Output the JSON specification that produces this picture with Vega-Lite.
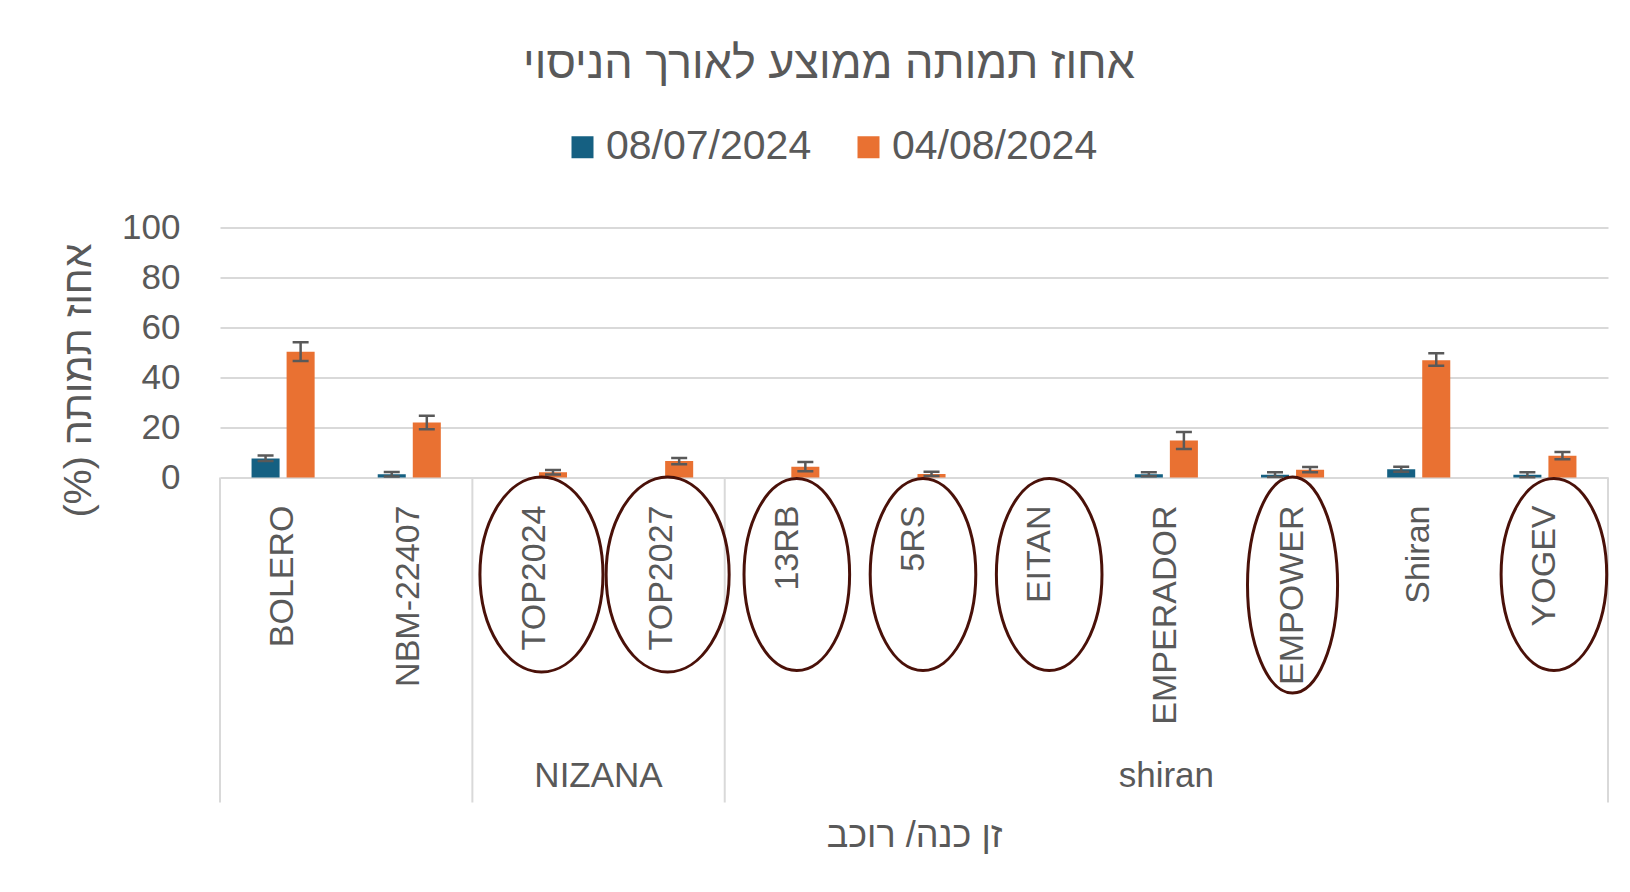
{
  "$schema": "https://vega.github.io/schema/vega-lite/v6.json",
  "width": 1388,
  "height": 575,
  "autosize": {"type": "none"},
  "padding": {"left": 220, "top": 227.5, "right": 22, "bottom": 89.5},
  "background": "white",
  "config": {
    "view": {"stroke": null},
    "font": "Liberation Sans, Arial, sans-serif"
  },
  "title": {
    "text": "אחוז תמותה ממוצע לאורך הניסוי",
    "fontSize": 45,
    "fontWeight": "normal",
    "color": "#595959",
    "anchor": "middle",
    "dx": -85,
    "offset": 40
  },
  "datasets": {
    "bars": [
      {"variety": "BOLERO", "date": "08/07/2024", "value": 7.6, "lo": 6.6, "hi": 8.8},
      {"variety": "BOLERO", "date": "04/08/2024", "value": 50.3, "lo": 46.6, "hi": 54.1},
      {"variety": "NBM-22407", "date": "08/07/2024", "value": 1.3, "lo": 0.4, "hi": 2.2},
      {"variety": "NBM-22407", "date": "04/08/2024", "value": 22, "lo": 19.3, "hi": 24.7},
      {"variety": "TOP2024", "date": "08/07/2024", "value": 0, "lo": null, "hi": null},
      {"variety": "TOP2024", "date": "04/08/2024", "value": 2.1, "lo": 1.2, "hi": 3.0},
      {"variety": "TOP2027", "date": "08/07/2024", "value": 0, "lo": null, "hi": null},
      {"variety": "TOP2027", "date": "04/08/2024", "value": 6.6, "lo": 5.3, "hi": 7.8},
      {"variety": "13RB", "date": "08/07/2024", "value": 0, "lo": null, "hi": null},
      {"variety": "13RB", "date": "04/08/2024", "value": 4.3, "lo": 2.5, "hi": 6.2},
      {"variety": "5RS", "date": "08/07/2024", "value": 0, "lo": null, "hi": null},
      {"variety": "5RS", "date": "04/08/2024", "value": 1.4, "lo": 0.6, "hi": 2.3},
      {"variety": "EITAN", "date": "08/07/2024", "value": 0, "lo": null, "hi": null},
      {"variety": "EITAN", "date": "04/08/2024", "value": 0, "lo": null, "hi": null},
      {"variety": "EMPERADOR", "date": "08/07/2024", "value": 1.3, "lo": 0.5, "hi": 2.1},
      {"variety": "EMPERADOR", "date": "04/08/2024", "value": 14.8, "lo": 11.4, "hi": 18.2},
      {"variety": "EMPOWER", "date": "08/07/2024", "value": 1.1, "lo": 0.2, "hi": 2.1},
      {"variety": "EMPOWER", "date": "04/08/2024", "value": 3.1, "lo": 2.1, "hi": 4.2},
      {"variety": "Shiran", "date": "08/07/2024", "value": 3.3, "lo": 2.3, "hi": 4.3},
      {"variety": "Shiran", "date": "04/08/2024", "value": 46.9, "lo": 44.7, "hi": 49.7},
      {"variety": "YOGEV", "date": "08/07/2024", "value": 1.1, "lo": 0.1, "hi": 2.1},
      {"variety": "YOGEV", "date": "04/08/2024", "value": 8.7, "lo": 7.3, "hi": 10.2}
    ],
    "varieties": [
      {"variety": "BOLERO", "group": "", "groupStart": true, "circled": false},
      {"variety": "NBM-22407", "group": "", "groupStart": false, "circled": false},
      {"variety": "TOP2024", "group": "NIZANA", "groupStart": true, "circled": true},
      {"variety": "TOP2027", "group": "NIZANA", "groupStart": false, "circled": true},
      {"variety": "13RB", "group": "shiran", "groupStart": true, "circled": true},
      {"variety": "5RS", "group": "shiran", "groupStart": false, "circled": true},
      {"variety": "EITAN", "group": "shiran", "groupStart": false, "circled": true},
      {"variety": "EMPERADOR", "group": "shiran", "groupStart": false, "circled": false},
      {"variety": "EMPOWER", "group": "shiran", "groupStart": false, "circled": true},
      {"variety": "Shiran", "group": "shiran", "groupStart": false, "circled": false},
      {"variety": "YOGEV", "group": "shiran", "groupStart": false, "circled": true}
    ]
  },
  "layer": [
    {
      "data": {"name": "bars"},
      "mark": {"type": "bar"},
      "encoding": {
        "x": {
          "field": "variety", "type": "nominal",
          "scale": {"domain": ["BOLERO", "NBM-22407", "TOP2024", "TOP2027", "13RB", "5RS", "EITAN", "EMPERADOR", "EMPOWER", "Shiran", "YOGEV"], "paddingInner": 0, "paddingOuter": 0},
          "axis": {"labels": false, "ticks": false, "domain": false, "grid": false, "title": "זן כנה/ רוכב", "titleFontSize": 36, "titleFontWeight": "normal", "titleColor": "#595959", "titlePadding": 16}
        },
        "xOffset": {
          "field": "date", "type": "nominal",
          "scale": {"domain": ["08/07/2024", "04/08/2024"], "paddingInner": 0.2, "paddingOuter": 0.9}
        },
        "y": {
          "field": "value", "type": "quantitative",
          "scale": {"domain": [-130, 100], "nice": false, "zero": false},
          "axis": {
            "values": [0, 20, 40, 60, 80, 100],
            "grid": true, "gridColor": "#d9d9d9", "gridWidth": 2,
            "domain": false, "ticks": false,
            "labelFontSize": 35, "labelColor": "#595959", "labelPadding": 40,
            "title": "(%) אחוז תמותה",
            "titleFontSize": 39.5, "titleFontWeight": "normal", "titleColor": "#595959",
            "titleAngle": 270, "titleX": -122, "titleY": 152.5, "titleAlign": "center", "titleBaseline": "bottom"
          }
        },
        "color": {
          "field": "date", "type": "nominal",
          "scale": {"domain": ["08/07/2024", "04/08/2024"], "range": ["#156082", "#E97132"]},
          "legend": {
            "orient": "none", "legendX": 342, "legendY": -101,
            "direction": "horizontal", "title": null,
            "symbolType": "square", "symbolSize": 484, "symbolStrokeWidth": 0,
            "labelFontSize": 41, "labelColor": "#595959", "labelOffset": 3, "labelLimit": 0,
            "columnPadding": 36, "padding": 0
          }
        }
      }
    },
    {
      "data": {"name": "bars"},
      "transform": [{"filter": "datum.lo != null"}],
      "mark": {"type": "rule", "color": "#595959", "strokeWidth": 2.5},
      "encoding": {
        "x": {"field": "variety", "type": "nominal", "scale": {"domain": ["BOLERO", "NBM-22407", "TOP2024", "TOP2027", "13RB", "5RS", "EITAN", "EMPERADOR", "EMPOWER", "Shiran", "YOGEV"]}},
        "xOffset": {"field": "date", "type": "nominal", "scale": {"domain": ["08/07/2024", "04/08/2024"]}},
        "y": {"field": "lo", "type": "quantitative", "title": "(%) אחוז תמותה"},
        "y2": {"field": "hi"}
      }
    },
    {
      "data": {"name": "bars"},
      "transform": [{"filter": "datum.lo != null"}],
      "mark": {"type": "tick", "orient": "horizontal", "size": 16, "thickness": 2.5, "color": "#595959", "opacity": 1},
      "encoding": {
        "x": {"field": "variety", "type": "nominal", "scale": {"domain": ["BOLERO", "NBM-22407", "TOP2024", "TOP2027", "13RB", "5RS", "EITAN", "EMPERADOR", "EMPOWER", "Shiran", "YOGEV"]}},
        "xOffset": {"field": "date", "type": "nominal", "scale": {"domain": ["08/07/2024", "04/08/2024"]}},
        "y": {"field": "lo", "type": "quantitative", "title": "(%) אחוז תמותה"}
      }
    },
    {
      "data": {"name": "bars"},
      "transform": [{"filter": "datum.hi != null"}],
      "mark": {"type": "tick", "orient": "horizontal", "size": 16, "thickness": 2.5, "color": "#595959", "opacity": 1},
      "encoding": {
        "x": {"field": "variety", "type": "nominal", "scale": {"domain": ["BOLERO", "NBM-22407", "TOP2024", "TOP2027", "13RB", "5RS", "EITAN", "EMPERADOR", "EMPOWER", "Shiran", "YOGEV"]}},
        "xOffset": {"field": "date", "type": "nominal", "scale": {"domain": ["08/07/2024", "04/08/2024"]}},
        "y": {"field": "hi", "type": "quantitative", "title": "(%) אחוז תמותה"}
      }
    },
    {
      "data": {"name": "varieties"},
      "mark": {"type": "text", "angle": 270, "align": "right", "baseline": "middle", "dx": -28, "fontSize": 34, "color": "#595959"},
      "encoding": {
        "x": {"field": "variety", "type": "nominal", "scale": {"domain": ["BOLERO", "NBM-22407", "TOP2024", "TOP2027", "13RB", "5RS", "EITAN", "EMPERADOR", "EMPOWER", "Shiran", "YOGEV"]}},
        "y": {"datum": 0, "type": "quantitative"},
        "text": {"field": "variety"}
      }
    },
    {
      "data": {"name": "varieties"},
      "transform": [{"filter": "datum.groupStart"}],
      "mark": {"type": "rule", "color": "#d9d9d9", "strokeWidth": 2},
      "encoding": {
        "x": {"field": "variety", "type": "nominal", "bandPosition": 0, "scale": {"domain": ["BOLERO", "NBM-22407", "TOP2024", "TOP2027", "13RB", "5RS", "EITAN", "EMPERADOR", "EMPOWER", "Shiran", "YOGEV"]}},
        "y": {"datum": 0, "type": "quantitative"},
        "y2": {"datum": -130}
      }
    },
    {
      "data": {"name": "varieties"},
      "transform": [{"filter": "datum.variety == 'YOGEV'"}],
      "mark": {"type": "rule", "color": "#d9d9d9", "strokeWidth": 2},
      "encoding": {
        "x": {"field": "variety", "type": "nominal", "bandPosition": 1, "scale": {"domain": ["BOLERO", "NBM-22407", "TOP2024", "TOP2027", "13RB", "5RS", "EITAN", "EMPERADOR", "EMPOWER", "Shiran", "YOGEV"]}},
        "y": {"datum": 0, "type": "quantitative"},
        "y2": {"datum": -130}
      }
    },
    {
      "data": {"name": "varieties"},
      "transform": [{"filter": "datum.variety == 'TOP2024'"}],
      "mark": {"type": "text", "align": "center", "baseline": "middle", "fontSize": 35, "color": "#595959"},
      "encoding": {
        "x": {"field": "variety", "type": "nominal", "bandPosition": 1, "scale": {"domain": ["BOLERO", "NBM-22407", "TOP2024", "TOP2027", "13RB", "5RS", "EITAN", "EMPERADOR", "EMPOWER", "Shiran", "YOGEV"]}},
        "y": {"datum": -119.4, "type": "quantitative"},
        "text": {"field": "group"}
      }
    },
    {
      "data": {"name": "varieties"},
      "transform": [{"filter": "datum.variety == 'EMPERADOR'"}],
      "mark": {"type": "text", "align": "center", "baseline": "middle", "fontSize": 35, "color": "#595959"},
      "encoding": {
        "x": {"field": "variety", "type": "nominal", "bandPosition": 0.5, "scale": {"domain": ["BOLERO", "NBM-22407", "TOP2024", "TOP2027", "13RB", "5RS", "EITAN", "EMPERADOR", "EMPOWER", "Shiran", "YOGEV"]}},
        "y": {"datum": -119.4, "type": "quantitative"},
        "text": {"field": "group"}
      }
    },
    {
      "data": {"name": "varieties"},
      "transform": [{"filter": "datum.circled && datum.group == 'NIZANA'"}],
      "mark": {"type": "point", "shape": "M0,-1A0.631,1,0,1,1,0,1A0.631,1,0,1,1,0,-1Z", "size": 38025, "filled": false, "stroke": "#4a1109", "strokeWidth": 3, "opacity": 1, "xOffset": 6},
      "encoding": {
        "x": {"field": "variety", "type": "nominal", "scale": {"domain": ["BOLERO", "NBM-22407", "TOP2024", "TOP2027", "13RB", "5RS", "EITAN", "EMPERADOR", "EMPOWER", "Shiran", "YOGEV"]}},
        "y": {"datum": -38.8, "type": "quantitative"}
      }
    },
    {
      "data": {"name": "varieties"},
      "transform": [{"filter": "datum.circled && datum.group == 'shiran' && datum.variety != 'EMPOWER'"}],
      "mark": {"type": "point", "shape": "M0,-1A0.55,1,0,1,1,0,1A0.55,1,0,1,1,0,-1Z", "size": 36864, "filled": false, "stroke": "#4a1109", "strokeWidth": 3, "opacity": 1, "xOffset": 9},
      "encoding": {
        "x": {"field": "variety", "type": "nominal", "scale": {"domain": ["BOLERO", "NBM-22407", "TOP2024", "TOP2027", "13RB", "5RS", "EITAN", "EMPERADOR", "EMPOWER", "Shiran", "YOGEV"]}},
        "y": {"datum": -38.8, "type": "quantitative"}
      }
    },
    {
      "data": {"name": "varieties"},
      "transform": [{"filter": "datum.variety == 'EMPOWER'"}],
      "mark": {"type": "point", "shape": "M0,-1A0.417,1,0,1,1,0,1A0.417,1,0,1,1,0,-1Z", "size": 46656, "filled": false, "stroke": "#4a1109", "strokeWidth": 3, "opacity": 1},
      "encoding": {
        "x": {"field": "variety", "type": "nominal", "scale": {"domain": ["BOLERO", "NBM-22407", "TOP2024", "TOP2027", "13RB", "5RS", "EITAN", "EMPERADOR", "EMPOWER", "Shiran", "YOGEV"]}},
        "y": {"datum": -43, "type": "quantitative"}
      }
    }
  ]
}
